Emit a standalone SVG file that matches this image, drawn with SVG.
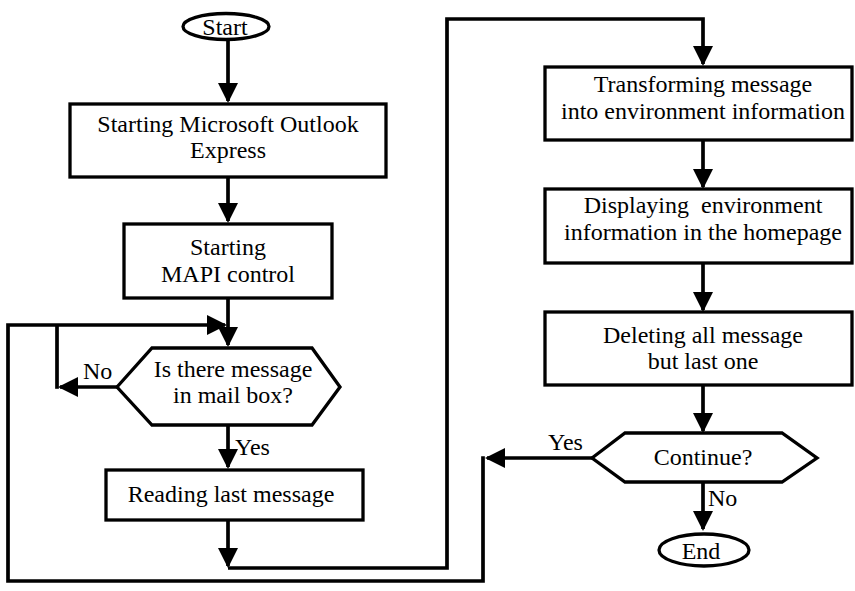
<svg xmlns="http://www.w3.org/2000/svg" width="855" height="591" viewBox="0 0 855 591">
<style>
.shape{fill:#fff;stroke:#000;stroke-width:3.3}
.conn{fill:none;stroke:#000;stroke-width:3.7;stroke-linejoin:miter}
text{font-family:"Liberation Serif","Times New Roman",serif;font-size:24px;fill:#000}
.c{text-anchor:middle}
</style>
<defs>
<marker id="ah" markerUnits="userSpaceOnUse" markerWidth="20" markerHeight="20" refX="18" refY="10" orient="auto">
<path d="M0,0 L20,10 L0,20 z" fill="#000"/>
</marker>
</defs>
<rect width="855" height="591" fill="#fff"/>
<g id="connectors">
<path class="conn" d="M228,40 V101" marker-end="url(#ah)"/>
<path class="conn" d="M228,177 V221" marker-end="url(#ah)"/>
<path class="conn" d="M228,298 V345" marker-end="url(#ah)"/>
<path class="conn" d="M228,425 V467" marker-end="url(#ah)"/>
<path class="conn" d="M228,520 V566" marker-end="url(#ah)"/>
<path class="conn" d="M228,568 H447 V19 H703 V64" marker-end="url(#ah)"/>
<path class="conn" d="M117,387 H60" marker-end="url(#ah)"/>
<path class="conn" d="M57,388.8 V325"/>
<path class="conn" d="M592,458 H487" marker-end="url(#ah)"/>
<path class="conn" d="M483,456.2 V581 H8 V325 H225" marker-end="url(#ah)"/>
<path class="conn" d="M703,141 V187" marker-end="url(#ah)"/>
<path class="conn" d="M703,263 V310" marker-end="url(#ah)"/>
<path class="conn" d="M703,385 V431" marker-end="url(#ah)"/>
<path class="conn" d="M703,482 V529" marker-end="url(#ah)"/>
<text x="235" y="455">Yes</text>
<text x="83" y="379">No</text>
<text x="548" y="450">Yes</text>
<text x="708" y="506">No</text>
</g>
<g id="start">
<ellipse class="shape" cx="226" cy="26.5" rx="43" ry="13"/>
<text class="c" x="225" y="35">Start</text>
</g>
<g id="outlook">
<rect class="shape" x="70" y="104" width="316" height="73"/>
<text class="c" x="228" y="132">Starting Microsoft Outlook</text>
<text class="c" x="228" y="158">Express</text>
</g>
<g id="mapi">
<rect class="shape" x="124" y="224" width="208" height="74"/>
<text class="c" x="228" y="255">Starting</text>
<text class="c" x="228" y="282">MAPI control</text>
</g>
<g id="check">
<polygon class="shape" points="117,387 152,348 312,348 340,387 312,425 152,425"/>
<text class="c" x="233" y="377">Is there message</text>
<text class="c" x="233" y="403">in mail box?</text>
</g>
<g id="read">
<rect class="shape" x="106" y="470" width="257" height="50"/>
<text class="c" x="231" y="502">Reading last message</text>
</g>
<g id="transform">
<rect class="shape" x="545" y="67" width="307" height="73"/>
<text class="c" x="703" y="92">Transforming message</text>
<text class="c" x="703" y="119">into environment information</text>
</g>
<g id="display">
<rect class="shape" x="545" y="189" width="307" height="74"/>
<text class="c" x="703" y="213" xml:space="preserve">Displaying  environment</text>
<text class="c" x="703" y="240">information in the homepage</text>
</g>
<g id="delete">
<rect class="shape" x="545" y="312" width="307" height="73"/>
<text class="c" x="703" y="343">Deleting all message</text>
<text class="c" x="703" y="369">but last one</text>
</g>
<g id="continue">
<polygon class="shape" points="592,458 625,433 782,433 817,458 782,482 625,482"/>
<text class="c" x="703" y="465">Continue?</text>
</g>
<g id="end">
<ellipse class="shape" cx="704" cy="550" rx="45" ry="16"/>
<text class="c" x="701" y="559">End</text>
</g>
</svg>
